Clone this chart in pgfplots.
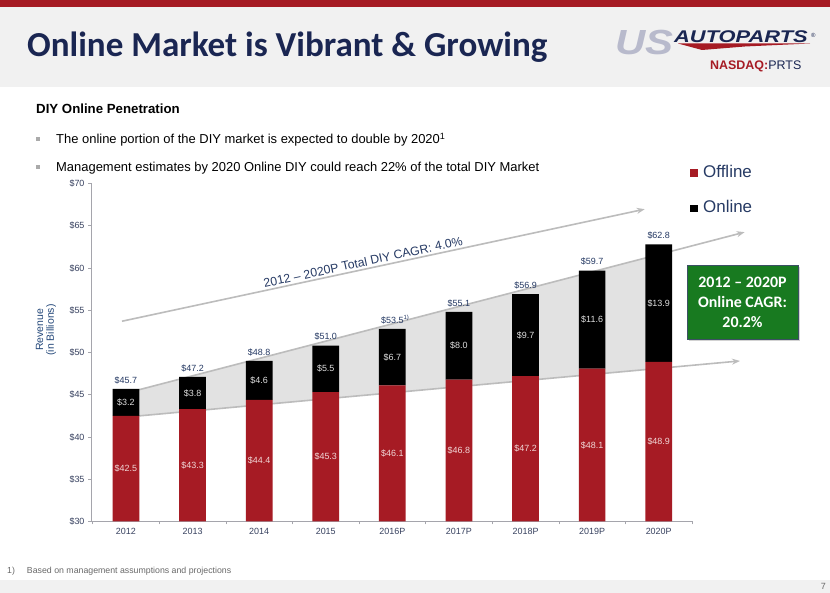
\documentclass[border=0pt]{standalone}
\usepackage{pgfplots}
\pgfplotsset{compat=1.18}
\usepackage{pgfplotstable}
\usepackage{graphicx}
\usepackage{fontspec}
\setmainfont{Liberation Sans}
\newfontfamily\calfont{Carlito}
\usetikzlibrary{arrows.meta,shadows}

\definecolor{brandred}{RGB}{166,27,36}
\definecolor{navy}{RGB}{26,38,82}
\definecolor{valblue}{RGB}{38,58,100}
\definecolor{tickcol}{RGB}{56,66,96}
\definecolor{headgray}{RGB}{241,241,241}
\definecolor{band}{RGB}{226,226,226}
\definecolor{arrowgray}{RGB}{188,188,188}
\definecolor{axisgray}{RGB}{165,165,172}
\definecolor{boxgreen}{RGB}{24,122,32}
\definecolor{boxborder}{RGB}{60,80,100}
\definecolor{logogray}{RGB}{184,186,204}
\definecolor{ylabcol}{RGB}{36,72,122}
\definecolor{offlab}{RGB}{240,214,214}
\definecolor{onlab}{RGB}{222,222,222}
\definecolor{footgray}{RGB}{105,105,105}
\definecolor{bulletgray}{RGB}{170,170,170}

% DIY market (USD billions): offline and online segments, stated totals
\pgfplotstableread{
x off on tot
0 42.5 3.2 45.7
1 43.3 3.8 47.2
2 44.4 4.6 48.8
3 45.3 5.5 51.0
4 46.1 6.7 {53.5\rlap{\textsuperscript{1)}}}
5 46.8 8.0 55.1
6 47.2 9.7 56.9
7 48.1 11.6 59.7
8 48.9 13.9 62.8
}\diydata

% shared geometry of the three stacked axis layers
\pgfplotsset{chartframe/.style={
  at={(91bp,71.5bp)}, anchor=south west,
  scale only axis, width=601bp, height=338bp,
  xmin=-0.525, xmax=8.5, ymin=30, ymax=70, clip=false}}

\begin{document}
\begin{tikzpicture}[x=1bp,y=1bp]
% slide frame
\fill[white] (0,0) rectangle (830,593);
\fill[headgray] (0,506) rectangle (830,586);
\fill[brandred] (0,586) rectangle (830,593);
\fill[headgray] (0,0) rectangle (830,13);

% title
\node[anchor=base west, inner sep=0, text=navy,
      font=\calfont\bfseries\fontsize{35.2}{35.2}\selectfont] at (27,536)
  {Online Market is Vibrant \& Growing};

% logo
\node[anchor=base west, inner sep=0, text=logogray,
      font=\bfseries\itshape\fontsize{35}{35}\selectfont] at (615,538)
  {\scalebox{1.2}[1]{US}};
\fill[brandred] (678,549.5) -- (810,549.5) -- (745,546.5) -- (702,543) -- cycle;
\node[anchor=base west, inner sep=0, text=navy,
      font=\bfseries\itshape\fontsize{17}{17}\selectfont] at (674,550.5)
  {\scalebox{1.29}[1]{AUTOPARTS}};
\node[anchor=base west, inner sep=0, text=navy,
      font=\fontsize{6}{6}\selectfont] at (811,555) {\textregistered};
\node[anchor=base west, inner sep=0, font=\fontsize{12.5}{12.5}\selectfont] at (710,523)
  {\textcolor{brandred}{\bfseries NASDAQ:}\textcolor{navy}{PRTS}};

% headline and bullets
\node[anchor=base west, inner sep=0, font=\bfseries\fontsize{13.3}{13.3}\selectfont] at (36,479)
  {DIY Online Penetration};
\fill[bulletgray] (36,452) rectangle (40,456);
\node[anchor=base west, inner sep=0, font=\fontsize{13}{13}\selectfont] at (56,449)
  {The online portion of the DIY market is expected to double by 2020\textsuperscript{1}};
\fill[bulletgray] (36,424) rectangle (40,428);
\node[anchor=base west, inner sep=0, font=\fontsize{13}{13}\selectfont] at (56,421)
  {Management estimates by 2020 Online DIY could reach 22\% of the total DIY Market};

% growth band and trend arrows, behind the bars
\begin{axis}[chartframe, hide axis]
\fill[band] (axis cs:0.2,42.5) -- (axis cs:0.2,45.6) -- (axis cs:7.8,61.2)
  -- (axis cs:7.8,48.0) -- cycle;
\draw[arrowgray, line width=1.6bp, -{Stealth[length=8bp,width=6bp]}]
  (axis cs:0.2,45.6) -- (axis cs:9.29,64.24);
\draw[arrowgray, line width=1.6bp, -{Stealth[length=8bp,width=6bp]}]
  (axis cs:0.2,42.5) -- (axis cs:9.22,49.0);
\draw[arrowgray, line width=1.6bp, -{Stealth[length=8bp,width=6bp]}]
  (axis cs:-0.06,53.7) -- (axis cs:7.79,66.96);
\node[rotate=12.1, text=valblue, font=\fontsize{12.3}{12.3}\selectfont]
  at (axis cs:3.56,60.7) {2012 – 2020P Total DIY CAGR: 4.0\%};
\end{axis}

% stacked bars
\begin{axis}[
  chartframe,
  axis x line*=bottom, axis y line*=left,
  axis line style={draw=axisgray, line width=0.8bp},
  ytick={30,35,...,70},
  yticklabel={\$\pgfmathprintnumber{\tick}},
  xtick={-0.5,0.5,...,8.5}, x tick label as interval,
  xticklabels={2012,2013,2014,2015,2016P,2017P,2018P,2019P,2020P},
  tick align=outside, major tick length=3bp,
  tick style={draw=axisgray, line width=0.6bp},
  ticklabel style={font=\fontsize{9}{9}\selectfont, text=tickcol},
  /pgf/number format/assume math mode=true,
  ybar stacked, bar width=26.7bp,
]
\addplot[fill=brandred, draw=none] table[x=x, y=off] {\diydata};
\addplot[fill=black, draw=none] table[x=x, y=on] {\diydata};
\end{axis}

% value labels: segments and totals
\begin{axis}[chartframe, hide axis,
  every node near coord/.append style={font=\fontsize{9}{9}\selectfont, inner sep=0}]
\addplot[draw=none, point meta=explicit symbolic,
  nodes near coords={\$\pgfplotspointmeta},
  every node near coord/.append style={text=offlab, anchor=center}]
  table[x=x, y expr={(30+\thisrow{off})/2}, meta=off] {\diydata};
\addplot[draw=none, point meta=explicit symbolic,
  nodes near coords={\$\pgfplotspointmeta},
  every node near coord/.append style={text=onlab, anchor=center}]
  table[x=x, y expr={\thisrow{off}+\thisrow{on}/2}, meta=on] {\diydata};
\addplot[draw=none, point meta=explicit symbolic,
  nodes near coords={\$\pgfplotspointmeta},
  every node near coord/.append style={text=valblue, anchor=south, yshift=5bp}]
  table[x=x, y expr={\thisrow{off}+\thisrow{on}}, meta=tot] {\diydata};
\end{axis}

% axis title
\node[rotate=90, align=center, text=ylabcol, font=\fontsize{10.5}{11}\selectfont] at (46,263)
  {Revenue\\(in Billions)};

% legend
\fill[brandred] (690,416) rectangle (698,424);
\node[anchor=base west, inner sep=0, text=valblue, font=\fontsize{17}{17}\selectfont] at (703,415) {Offline};
\fill[black] (690,381) rectangle (698,388);
\node[anchor=base west, inner sep=0, text=valblue, font=\fontsize{17}{17}\selectfont] at (703,380) {Online};

% online CAGR callout
\node[fill=boxgreen, draw=boxborder, line width=0.8bp,
      minimum width=111bp, minimum height=74bp, inner sep=0,
      drop shadow={shadow xshift=2bp, shadow yshift=-2bp, opacity=0.35},
      align=center, text=white, font=\calfont\bfseries\fontsize{16}{20}\selectfont]
  at (742.5,291) {2012 – 2020P\\Online CAGR:\\20.2\%};

% footnote and page number
\node[anchor=base west, inner sep=0, text=footgray, font=\fontsize{8.8}{8.8}\selectfont] at (7,19)
  {1)\hspace{12bp}Based on management assumptions and projections};
\node[anchor=base east, inner sep=0, text=footgray, font=\fontsize{9}{9}\selectfont] at (826,3) {7};
\end{tikzpicture}
\end{document}
